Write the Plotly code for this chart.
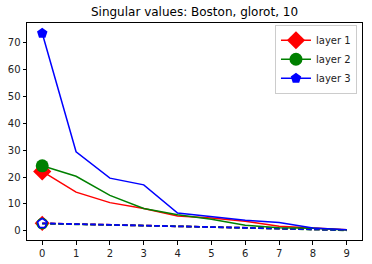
import plotly.graph_objects as go

x = list(range(10))
layer1 = [22.1, 14.4, 10.5, 8.3, 5.5, 4.8, 3.6, 1.7, 1.1, 0.4]
layer2 = [24.2, 20.3, 13.2, 8.3, 6.0, 4.3, 2.1, 1.2, 1.0, 0.3]
layer3 = [73.5, 29.4, 19.6, 17.1, 6.6, 5.2, 3.9, 3.1, 1.1, 0.4]
init1 = [2.8, 2.5, 2.2, 2.0, 1.7, 1.4, 1.1, 0.8, 0.5, 0.3]
init2 = [2.7, 2.5, 2.2, 2.0, 1.7, 1.4, 1.1, 0.8, 0.5, 0.2]
init3 = [2.8, 2.5, 2.3, 2.0, 1.7, 1.4, 1.1, 0.8, 0.6, 0.3]
names = ["layer 1", "layer 2", "layer 3"]
colors = ["#ff0000", "#008000", "#0000ff"]
symbols = ["diamond", "circle", "pentagon"]
sizes = [14, 13, 11]

fig = go.Figure()
for series, c in zip([init1, init2, init3], colors):
    fig.add_trace(go.Scatter(x=x, y=series, mode="lines", showlegend=False,
                             line=dict(color=c, width=1.8, dash="5.5px,2.5px")))
for series, c, s in zip([init1, init2, init3], colors, symbols):
    fig.add_trace(go.Scatter(x=x[:1], y=series[:1], mode="markers", showlegend=False,
                             marker=dict(symbol=s + "-open", color=c, size=10,
                                         line=dict(color=c, width=1.5))))
for series, c, n, s, sz in zip([layer1, layer2, layer3], colors, names, symbols, sizes):
    fig.add_trace(go.Scatter(x=x, y=series, mode="lines", showlegend=False,
                             legendgroup=n, line=dict(color=c, width=1.5)))
    fig.add_trace(go.Scatter(x=x[:1], y=series[:1], mode="lines+markers", name=n,
                             legendgroup=n, line=dict(color=c, width=1.5),
                             marker=dict(symbol=s, color=c, size=sz)))

axis_common = dict(showgrid=False, zeroline=False, showline=True, linecolor="black",
                   linewidth=1, mirror=True, ticks="outside", ticklen=3.5, automargin=False,
                   tickcolor="black", tickfont=dict(family="DejaVu Sans", size=10, color="#222"))
fig.update_layout(
    width=372, height=264,
    margin=dict(l=27, r=10, t=23, b=24),
    paper_bgcolor="white", plot_bgcolor="white",
    title=dict(text="Singular values: Boston, glorot, 10", xref="paper", x=0.5, xanchor="center",
               yref="container", y=0.955, yanchor="middle",
               font=dict(family="DejaVu Sans", size=12, color="black")),
    xaxis=dict(range=[-0.45, 9.45], tickmode="array", tickvals=x, **axis_common),
    yaxis=dict(range=[-3.4, 77.3], tickmode="array", tickvals=[0, 10, 20, 30, 40, 50, 60, 70],
               **axis_common),
    legend=dict(x=0.985, y=0.992, xanchor="right", yanchor="top",
                bgcolor="rgba(255,255,255,0.8)", bordercolor="#cccccc", borderwidth=1,
                font=dict(family="DejaVu Sans", size=10, color="#222"),
                tracegroupgap=0, itemwidth=30),
)
fig.write_html("out.html")
